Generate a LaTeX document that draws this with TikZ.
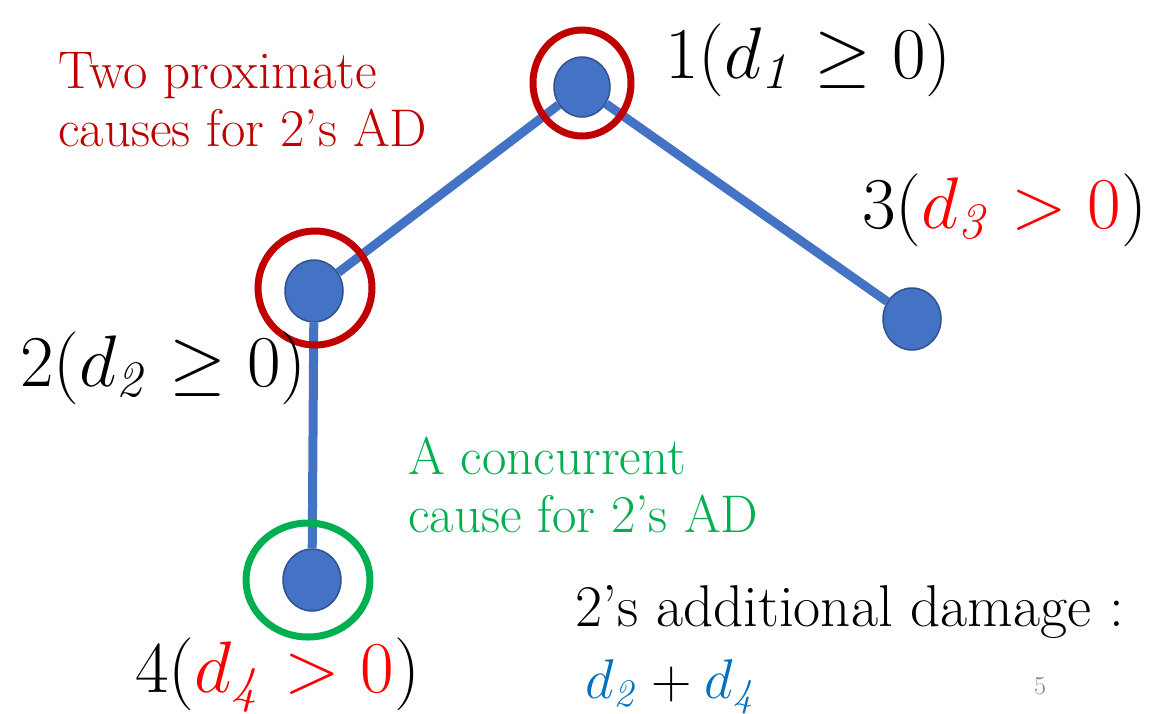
\RequirePackage{fix-cm}
\documentclass[tikz,border=0pt]{standalone}
\usepackage{amsmath}
\usepackage{xcolor}
\usetikzlibrary{positioning,shapes.geometric}
\definecolor{dotfill}{HTML}{4472C4}
\definecolor{dotline}{HTML}{2F528F}
\definecolor{causered}{HTML}{C00000}
\definecolor{dmgred}{HTML}{FF0000}
\definecolor{concgreen}{HTML}{00B050}
\definecolor{sumblue}{HTML}{0070C0}
\begin{document}
\begin{tikzpicture}[x=1pt, y=-1pt, dot/.style={ellipse, draw=dotline, fill=dotfill, line width=1.5pt, minimum width=58pt, minimum height=62pt, inner sep=0}, ring/.style={ellipse, draw=#1, line width=7pt, inner sep=0}, edge/.style={draw=dotfill, line width=9pt}, lbl/.style={inner sep=0, anchor=base west, font=\fontsize{73}{80}\selectfont}, note/.style={inner sep=0, anchor=north west, align=left, font=\fontsize{53}{58}\selectfont}]
\useasboundingbox (0,0) rectangle (1175,713);
% players
\node[dot, minimum width=56pt, minimum height=60pt] (n1) at (582,87) {};
\node[dot] (n2) at (314,291) {};
\node[dot] (n3) at (912,319) {};
\node[dot] (n4) at (312,580) {};
\draw[edge] (n1)--(n2); \draw[edge] (n1)--(n3); \draw[edge] (n2)--(n4);
% causes
\node[ring=causered, minimum width=98pt, minimum height=106pt] (r1) at (582,83) {};
\node[ring=causered, minimum width=114pt, minimum height=114pt] (r2) at (315,288) {};
\node[ring=concgreen, minimum width=124pt, minimum height=114pt] (r4) at (308,580) {};
% labels
\node[lbl] (l1) at (665,78) {$1(d_{\mathit{1}}\geq 0)$};
\node[lbl] (l2) at (20,386) {$2(d_{\mathit{2}}\geq 0)$};
\node[lbl] (l3) at (862,228) {$3({\color{dmgred}d_{\mathit{3}}>0})$};
\node[lbl] (l4) at (135,692) {$4({\color{dmgred}d_{\mathit{4}}>0})$};
\node[note, text=causered] (prox) at (58,52) {Two proximate\\causes for 2's AD};
\node[note, text=concgreen] (conc) at (408,437) {A concurrent\\cause for 2's AD};
\node[lbl, font=\fontsize{59}{64}\selectfont] (dmg) at (575,626) {2's additional damage :};
\node[lbl, font=\fontsize{56}{60}\selectfont] (sum) at (585,698) {${\color{sumblue}d_{\mathit{2}}}+{\color{sumblue}d_{\mathit{4}}}$};
\node[lbl, font=\fontsize{26}{28}\selectfont, text=gray] (page) at (1034,694) {5};
\end{tikzpicture}
\end{document}
